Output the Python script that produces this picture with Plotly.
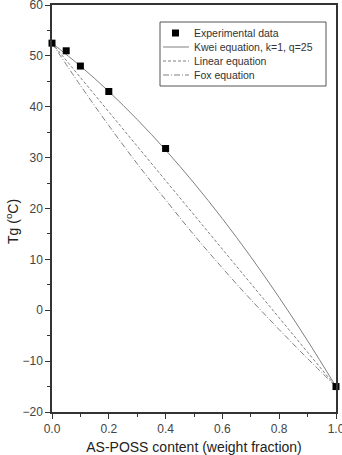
import plotly.graph_objects as go

# Data
exp_x = [0.0, 0.05, 0.1, 0.2, 0.4, 1.0]
exp_y = [52.5, 51.0, 48.0, 43.0, 31.8, -15.0]

kwei_x = [0.0, 0.1, 0.2, 0.3, 0.4, 0.5, 0.6, 0.7, 0.8, 0.9, 1.0]
kwei_y = [52.5, 48.0, 43.0, 37.5, 31.5, 25.0, 18.0, 10.5, 2.5, -6.0, -15.0]

lin_x = [0.0, 1.0]
lin_y = [52.5, -15.0]

fox_x = [0.0, 0.1, 0.2, 0.3, 0.4, 0.5, 0.6, 0.7, 0.8, 0.9, 1.0]
fox_y = [52.5, 44.2, 36.3, 28.8, 21.7, 14.8, 8.3, 2.1, -3.8, -9.5, -15.0]

x_ticks = [0.0, 0.2, 0.4, 0.6, 0.8, 1.0]
x_tick_labels = ["0.0", "0.2", "0.4", "0.6", "0.8", "1.0"]
y_ticks = [-20, -10, 0, 10, 20, 30, 40, 50, 60]

legend_names = ["Experimental data", "Kwei equation, k=1, q=25", "Linear equation", "Fox equation"]

FONT = "Liberation Sans, Arial"
line_col = "#808080"
lin_dash = "3px,2px"
fox_dash = "6px,2px,1px,2px"

fig = go.Figure()
fig.add_trace(go.Scatter(x=kwei_x, y=kwei_y, mode="lines", name=legend_names[1],
                         line=dict(color=line_col, width=1, shape="spline")))
fig.add_trace(go.Scatter(x=lin_x, y=lin_y, mode="lines", name=legend_names[2],
                         line=dict(color=line_col, width=1, dash=lin_dash)))
fig.add_trace(go.Scatter(x=fox_x, y=fox_y, mode="lines", name=legend_names[3],
                         line=dict(color=line_col, width=1, dash=fox_dash, shape="spline")))
fig.add_trace(go.Scatter(x=exp_x, y=exp_y, mode="markers", name=legend_names[0],
                         marker=dict(symbol="square", size=7, color="black"), cliponaxis=False))

axis_common = dict(showgrid=False, zeroline=False, showline=True, linecolor="#333333", linewidth=1.5,
                   mirror=True, ticks="outside", ticklen=5, tickwidth=1, tickcolor="#333333",
                   automargin=False, ticklabeloverflow="allow",
                   tickfont=dict(family=FONT, size=12, color="#444444"))

fig.update_xaxes(range=[0, 1.0], tickvals=x_ticks, ticktext=x_tick_labels,
                 minor=dict(ticks="outside", dtick=0.1, ticklen=3, tickcolor="#333333"),
                 title=dict(text="AS-POSS content (weight fraction)",
                            font=dict(family=FONT, size=14, color="#222222"), standoff=16),
                 **axis_common)
fig.update_yaxes(range=[-20, 60], tickvals=y_ticks,
                 minor=dict(ticks="outside", dtick=5, ticklen=3, tickcolor="#333333"),
                 **axis_common)

# plot area geometry in px (for paper-coordinate legend)
L, R, T, B = 52, 6, 5, 43
W, H = 342, 455
pw, ph = W - L - R, H - T - B
def px(xp):
    return (xp - L) / pw
def py(yp):
    return (H - B - yp) / ph

shapes = [dict(type="rect", xref="paper", yref="paper", x0=px(160), x1=px(326), y0=py(86), y1=py(22),
               line=dict(color="#555555", width=1), fillcolor="white", layer="above")]
annotations = []
rows = [33, 47, 61, 75]
styles = [None, "solid", lin_dash, fox_dash]
for i, (name, yy) in enumerate(zip(legend_names, rows)):
    if styles[i] is None:
        shapes.append(dict(type="rect", xref="paper", yref="paper",
                           x0=px(172), x1=px(179), y0=py(yy + 3.5), y1=py(yy - 3.5),
                           line=dict(width=0), fillcolor="black", layer="above"))
    else:
        shapes.append(dict(type="line", xref="paper", yref="paper",
                           x0=px(163), x1=px(189), y0=py(yy), y1=py(yy),
                           line=dict(color=line_col, width=1, dash=styles[i]), layer="above"))
    annotations.append(dict(text=name, xref="paper", yref="paper", x=px(192), y=py(yy),
                            xanchor="left", yanchor="middle", showarrow=False,
                            font=dict(family=FONT, size=10.5, color="#333333")))

annotations.append(dict(text="Tg (<sup>o</sup>C)", xref="paper", yref="paper", x=px(12), y=py(222),
                        xanchor="center", yanchor="middle", textangle=-90, showarrow=False,
                        font=dict(family=FONT, size=14, color="#222222")))

fig.update_layout(
    width=W, height=H,
    margin=dict(l=L, r=R, t=T, b=B),
    plot_bgcolor="white", paper_bgcolor="white",
    showlegend=False,
    shapes=shapes,
    annotations=annotations,
)

fig.write_html("out.html")
